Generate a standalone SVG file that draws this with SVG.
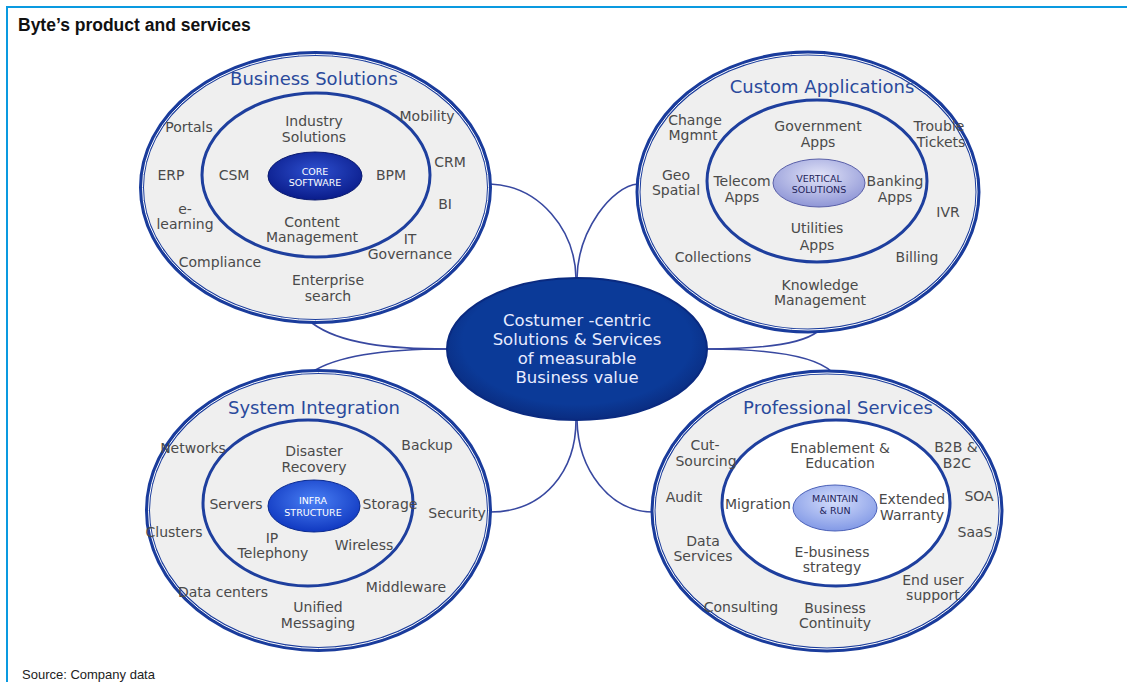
<svg xmlns="http://www.w3.org/2000/svg" width="1127" height="682" viewBox="0 0 1127 682">
<defs>
<style>
.t{font-family:"DejaVu Sans",sans-serif;font-size:14px;fill:#4a4a4a;text-anchor:middle}
.h{font-family:"DejaVu Sans",sans-serif;font-size:18px;fill:#2a4a9c;text-anchor:middle}
.w{font-family:"DejaVu Sans",sans-serif;font-size:9.5px;fill:#ffffff;text-anchor:middle}
.d{font-family:"DejaVu Sans",sans-serif;font-size:9.5px;fill:#23235a;text-anchor:middle}
.c{font-family:"DejaVu Sans",sans-serif;font-size:16.5px;fill:#e8ecff;text-anchor:middle}
.outer{fill:#efefef;stroke:#1a3c9c;stroke-width:5}
.ol{fill:none;stroke:#ffffff;stroke-width:1}
.inner{fill:#efefef;stroke:#1e3f9e;stroke-width:3}
.conn{fill:none;stroke:#3848a0;stroke-width:1.6}
</style>
<radialGradient id="gCore" cx="50%" cy="40%" r="60%"><stop offset="0" stop-color="#2e50d0"/><stop offset="1" stop-color="#0a1c8a"/></radialGradient>
<radialGradient id="gInfra" cx="50%" cy="40%" r="60%"><stop offset="0" stop-color="#4a80f5"/><stop offset="1" stop-color="#1038c0"/></radialGradient>
<radialGradient id="gVert" cx="50%" cy="35%" r="65%"><stop offset="0" stop-color="#e2e4f8"/><stop offset="1" stop-color="#8f96d6"/></radialGradient>
<radialGradient id="gMaint" cx="50%" cy="35%" r="65%"><stop offset="0" stop-color="#d4ddfb"/><stop offset="1" stop-color="#8299e6"/></radialGradient>
<radialGradient id="gCenter" cx="50%" cy="45%" r="55%"><stop offset="0.8" stop-color="#0b3a98"/><stop offset="1" stop-color="#0a2c80"/></radialGradient>
</defs>
<rect width="1127" height="682" fill="#ffffff"/>
<g id="frame">
<line x1="7" y1="7" x2="1127" y2="7" stroke="#0a9ae0" stroke-width="2"/>
<line x1="7" y1="6" x2="7" y2="682" stroke="#0a9ae0" stroke-width="2"/>
<text x="18" y="31" style="font-family:'Liberation Sans',Arial,sans-serif;font-size:17.5px;font-weight:bold;fill:#111">Byte’s product and services</text>
<text x="22" y="679" style="font-family:'Liberation Sans',Arial,sans-serif;font-size:13px;fill:#222">Source: Company data</text>
</g>
<g id="connectors">
<path class="conn" d="M490,184 C540,186 575,230 576,278"/>
<path class="conn" d="M638,184 C612,186 578,230 577,278"/>
<path class="conn" d="M447,349 C390,349 340,344 312,323"/>
<path class="conn" d="M447,349 C390,349 340,354 312,372"/>
<path class="conn" d="M706,349 C760,349 800,345 817,332"/>
<path class="conn" d="M706,349 C770,349 815,356 832,372"/>
<path class="conn" d="M576,420 C576,470 545,512 490,512"/>
<path class="conn" d="M577,420 C578,470 610,512 653,512"/>
</g>
<g id="business-solutions">
<ellipse class="outer" cx="315.5" cy="187.5" rx="174" ry="134"/>
<ellipse class="ol" cx="315.5" cy="187.5" rx="173" ry="133"/>
<ellipse class="inner" cx="316" cy="175" rx="114" ry="82"/>
<ellipse cx="315" cy="176" rx="47" ry="24" fill="url(#gCore)" stroke="#0a1a70" stroke-width="1"/>
<text class="h" x="314" y="85">Business Solutions</text>
<text class="t" x="314" y="126">Industry<tspan x="314" dy="16">Solutions</tspan></text>
<text class="t" x="189" y="132">Portals</text>
<text class="t" x="427" y="121">Mobility</text>
<text class="t" x="171" y="180">ERP</text>
<text class="t" x="234" y="180">CSM</text>
<text class="w" x="315" y="175">CORE<tspan x="315" dy="11">SOFTWARE</tspan></text>
<text class="t" x="391" y="180">BPM</text>
<text class="t" x="450" y="167">CRM</text>
<text class="t" x="445" y="209">BI</text>
<text class="t" x="185" y="214">e-<tspan x="185" dy="15">learning</tspan></text>
<text class="t" x="312" y="227">Content<tspan x="312" dy="15">Management</tspan></text>
<text class="t" x="410" y="244">IT<tspan x="410" dy="15">Governance</tspan></text>
<text class="t" x="220" y="267">Compliance</text>
<text class="t" x="328" y="285">Enterprise<tspan x="328" dy="16">search</tspan></text>
</g>
<g id="custom-applications">
<ellipse class="outer" cx="808" cy="192" rx="170" ry="139"/>
<ellipse class="ol" cx="808" cy="192" rx="169" ry="138"/>
<ellipse class="inner" cx="817" cy="181" rx="110" ry="81"/>
<ellipse cx="819" cy="183" rx="46" ry="24" fill="url(#gVert)" stroke="#5a60a8" stroke-width="1"/>
<text class="h" x="822" y="93">Custom Applications</text>
<text class="t" x="695" y="125">Change<tspan x="693" dy="15">Mgmnt</tspan></text>
<text class="t" x="818" y="131">Government<tspan x="818" dy="16">Apps</tspan></text>
<text class="t" x="939" y="131">Trouble<tspan x="941" dy="16">Tickets</tspan></text>
<text class="t" x="676" y="180">Geo<tspan x="676" dy="15">Spatial</tspan></text>
<text class="t" x="742" y="186">Telecom<tspan x="742" dy="16">Apps</tspan></text>
<text class="d" x="819" y="182">VERTICAL<tspan x="819" dy="11">SOLUTIONS</tspan></text>
<text class="t" x="895" y="186">Banking<tspan x="895" dy="16">Apps</tspan></text>
<text class="t" x="948" y="217">IVR</text>
<text class="t" x="817" y="233">Utilities<tspan x="817" dy="17">Apps</tspan></text>
<text class="t" x="713" y="262">Collections</text>
<text class="t" x="917" y="262">Billing</text>
<text class="t" x="820" y="290">Knowledge<tspan x="820" dy="15">Management</tspan></text>
</g>
<g id="system-integration">
<ellipse class="outer" cx="318.5" cy="510.5" rx="171" ry="139"/>
<ellipse class="ol" cx="318.5" cy="510.5" rx="170" ry="138"/>
<ellipse class="inner" cx="308" cy="503" rx="105" ry="83"/>
<ellipse cx="314" cy="506" rx="46" ry="26" fill="url(#gInfra)" stroke="#0a2a90" stroke-width="1"/>
<text class="h" x="314" y="414">System Integration</text>
<text class="t" x="193" y="453">Networks</text>
<text class="t" x="314" y="456">Disaster<tspan x="314" dy="16">Recovery</tspan></text>
<text class="t" x="427" y="450">Backup</text>
<text class="t" x="236" y="509">Servers</text>
<text class="w" x="313" y="504">INFRA<tspan x="313" dy="12">STRUCTURE</tspan></text>
<text class="t" x="390" y="509">Storage</text>
<text class="t" x="457" y="518">Security</text>
<text class="t" x="174" y="537">Clusters</text>
<text class="t" x="272" y="543">IP<tspan x="273" dy="15">Telephony</tspan></text>
<text class="t" x="364" y="550">Wireless</text>
<text class="t" x="406" y="592">Middleware</text>
<text class="t" x="223" y="597">Data centers</text>
<text class="t" x="318" y="612">Unified<tspan x="318" dy="16">Messaging</tspan></text>
</g>
<g id="professional-services">
<ellipse class="outer" cx="827" cy="511" rx="174" ry="139"/>
<ellipse class="ol" cx="827" cy="511" rx="173" ry="138"/>
<ellipse class="inner" cx="836" cy="503" rx="114" ry="83" style="fill:#ffffff"/>
<ellipse cx="835" cy="508" rx="42" ry="23" fill="url(#gMaint)" stroke="#4a60b8" stroke-width="1"/>
<text class="h" x="838" y="414">Professional Services</text>
<text class="t" x="705" y="450">Cut-<tspan x="706" dy="16">Sourcing</tspan></text>
<text class="t" x="840" y="453">Enablement &amp;<tspan x="840" dy="15">Education</tspan></text>
<text class="t" x="956" y="452">B2B &amp;<tspan x="957" dy="16">B2C</tspan></text>
<text class="t" x="684" y="502">Audit</text>
<text class="t" x="758" y="509">Migration</text>
<text class="d" x="835" y="502">MAINTAIN<tspan x="835" dy="12">&amp; RUN</tspan></text>
<text class="t" x="912" y="504">Extended<tspan x="912" dy="16">Warranty</tspan></text>
<text class="t" x="979" y="501">SOA</text>
<text class="t" x="975" y="537">SaaS</text>
<text class="t" x="703" y="546">Data<tspan x="703" dy="15">Services</tspan></text>
<text class="t" x="832" y="557">E-business<tspan x="832" dy="15">strategy</tspan></text>
<text class="t" x="933" y="585">End user<tspan x="933" dy="15">support</tspan></text>
<text class="t" x="741" y="612">Consulting</text>
<text class="t" x="835" y="613">Business<tspan x="835" dy="15">Continuity</tspan></text>
</g>
<g id="center">
<ellipse cx="577" cy="349" rx="130" ry="71" fill="url(#gCenter)" stroke="#0a2a80" stroke-width="2"/>
<text class="c" x="577" y="326">Costumer -centric<tspan x="577" dy="19">Solutions &amp; Services</tspan><tspan x="577" dy="19">of measurable</tspan><tspan x="577" dy="19">Business value</tspan></text>
</g>
</svg>
